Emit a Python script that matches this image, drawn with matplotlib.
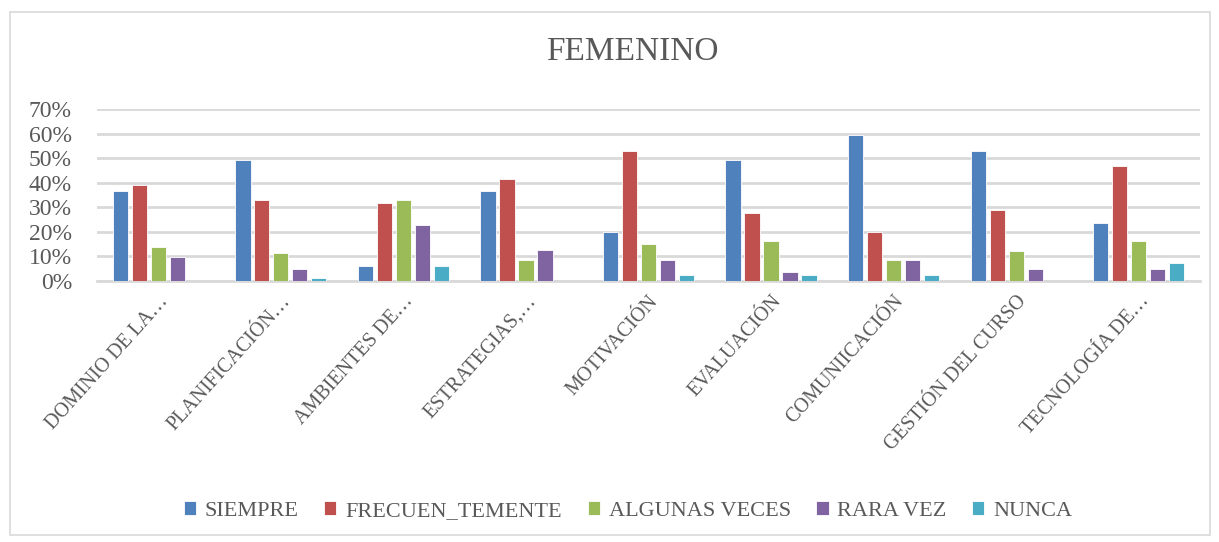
import matplotlib
matplotlib.use("Agg")
import matplotlib.pyplot as plt
import numpy as np
from matplotlib.patches import Rectangle

categories = ["DOMINIO DE LA\u2026", "PLANIFICACIÓN\u2026", "AMBIENTES DE\u2026", "ESTRATEGIAS,\u2026",
              "MOTIVACIÓN", "EVALUACIÓN", "COMUNIICACIÓN", "GESTIÓN DEL CURSO", "TECNOLOGÍA DE\u2026"]
series_names = ["SIEMPRE", "FRECUEN_TEMENTE", "ALGUNAS VECES", "RARA VEZ", "NUNCA"]
siempre     = [0.365, 0.493, 0.063, 0.365, 0.200, 0.493, 0.595, 0.530, 0.238]
frecuente   = [0.390, 0.328, 0.316, 0.416, 0.530, 0.276, 0.200, 0.290, 0.467]
algunas     = [0.137, 0.112, 0.328, 0.086, 0.151, 0.162, 0.086, 0.124, 0.162]
rara_vez    = [0.099, 0.048, 0.226, 0.125, 0.086, 0.035, 0.086, 0.048, 0.048]
nunca       = [0.000, 0.011, 0.063, 0.000, 0.024, 0.024, 0.024, 0.000, 0.072]
yticks = [0, 0.1, 0.2, 0.3, 0.4, 0.5, 0.6, 0.7]
ytick_labels = ["0%", "10%", "20%", "30%", "40%", "50%", "60%", "70%"]
title = "FEMENINO"

colors = ["#4F81BD", "#C0504D", "#9BBB59", "#8064A2", "#4BACC6"]
text_color = "#595959"
font = ["Liberation Serif", "DejaVu Serif"]
plt.rcParams['font.family'] = font

fig = plt.figure(figsize=(12.19, 5.42), dpi=100)
fig.patches.append(Rectangle((10/1219, 7/542), 1200/1219, 523/542, transform=fig.transFigure,
                             fill=False, edgecolor="#d9d9d9", linewidth=1.2))
ax = fig.add_axes([97/1219, 1 - 281/542, (1200-97)/1219, (281-109)/542])

data = [siempre, frecuente, algunas, rara_vez, nunca]
x = np.arange(len(categories))
step = 0.155
bw = 0.125
for i, (vals, name, c) in enumerate(zip(data, series_names, colors)):
    ax.bar(x + (i - 2) * step, vals, width=bw, color=c, label=name,
           edgecolor="white", linewidth=0.6, zorder=3)

ax.set_xlim(-0.5, len(categories) - 0.5)
ax.set_ylim(0, 0.7)
ax.set_yticks(yticks)
ax.set_yticklabels(ytick_labels, fontsize=17, color=text_color)
ax.set_xticks(x)
ax.set_xticklabels(categories, rotation=48, ha="right", rotation_mode="anchor",
                   fontsize=14.5, color=text_color)
ax.tick_params(axis="both", length=0, pad=8)
ax.tick_params(axis="y", pad=18)
ax.grid(axis="y", color="#d9d9d9", linewidth=2, zorder=0)
for s in ["top", "right", "left"]:
    ax.spines[s].set_visible(False)
ax.spines["bottom"].set_color("#d9d9d9")
ax.spines["bottom"].set_linewidth(2)

fig.text(632/1219, 1 - 52/542, title, ha="center", va="center", fontsize=24, color=text_color)

leg = fig.legend(loc="center", bbox_to_anchor=(628/1219, 1 - 511/542), ncol=5, frameon=False,
                 fontsize=16, handlelength=0.55, handleheight=0.55, handletextpad=0.4,
                 columnspacing=1.15)
for t in leg.get_texts():
    t.set_color(text_color)

fig.savefig("out.png", dpi=100)
